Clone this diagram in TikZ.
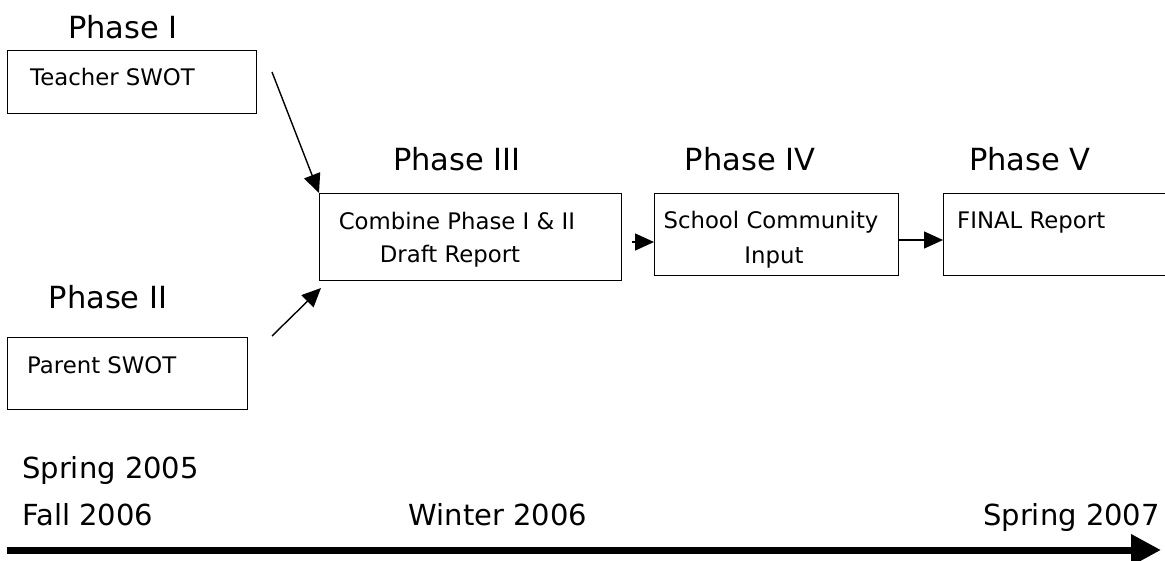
\documentclass[tikz,border=0pt]{standalone}
\usepackage{fontspec}
\setmainfont{DejaVu Sans}
\usetikzlibrary{arrows.meta,calc}
\tikzset{
  box/.style={draw, line width=1.4pt, anchor=north west, inner sep=0pt},
  phase/.style={font=\fontsize{30.5}{35}\selectfont, anchor=base, inner sep=0pt},
  btxt/.style={font=\fontsize{22.8}{27}\selectfont, anchor=base west, inner sep=0pt},
  ctxt/.style={font=\fontsize{22.8}{27}\selectfont, anchor=base, inner sep=0pt},
  ttxt/.style={font=\fontsize{29}{33}\selectfont, inner sep=0pt},
  conn/.style={line width=1.4pt, -{Triangle[length=19pt,width=17pt]}},
}
\begin{document}
\begin{tikzpicture}[x=1pt,y=-1pt]
\useasboundingbox (0,0) rectangle (1165,560);
\clip (0,0) rectangle (1165,560);
% boxes
\node[box, minimum width=249pt, minimum height=63pt] (teacher) at (7,50) {};
\node[box, minimum width=240pt, minimum height=72pt] (parent) at (7,337) {};
\node[box, minimum width=302pt, minimum height=87pt] (combine) at (319,193) {};
\node[box, minimum width=244pt, minimum height=82pt] (school) at (654,193) {};
\node[box, minimum width=240pt, minimum height=82pt] (final) at (943,193) {};
% phase labels
\node[phase] (p1) at (123,38) {Phase I};
\node[phase] (p2) at (108,308) {Phase II};
\node[phase] (p3) at (457,170) {Phase III};
\node[phase] (p4) at (750,170) {Phase IV};
\node[phase] (p5) at (1030,170) {Phase V};
% box texts
\node[btxt] (t1) at (30,85) {Teacher SWOT};
\node[btxt] (t2) at (27,373) {Parent SWOT};
\node[ctxt] (t3a) at (457,229) {Combine Phase I \& II};
\node[ctxt] (t3b) at (450,262) {Draft Report};
\node[ctxt] (t4a) at (771,228) {School Community};
\node[ctxt] (t4b) at (774,263) {Input};
\node[btxt] (t5) at (957,228) {FINAL Report};
% connectors
\coordinate (a1) at (272,72);
\coordinate (a2) at (272,336);
\coordinate (a2t) at (321,288);
\coordinate (a3) at (632,242);
\draw[conn] (a1) -- (combine.north west);
\draw[conn] (a2) -- (a2t);
\draw[conn] (a3) -- (school.west |- a3);
\draw[conn] (school.east |- 0,240) -- (final.west |- 0,240);
% timeline
\node[ttxt, anchor=base west] (s05) at (22,478) {Spring 2005};
\node[ttxt, anchor=base west] (f06) at (22,525) {Fall 2006};
\node[ttxt, anchor=base] (w06) at (498,525) {Winter 2006};
\node[ttxt, anchor=base east] (s07) at (1160,525) {Spring 2007};
\coordinate (tl0) at (7,550);
\coordinate (tl1) at (1161,550);
\draw[line width=7pt, -{Triangle[length=30pt,width=30pt]}] (tl0) -- (tl1);
\end{tikzpicture}
\end{document}
